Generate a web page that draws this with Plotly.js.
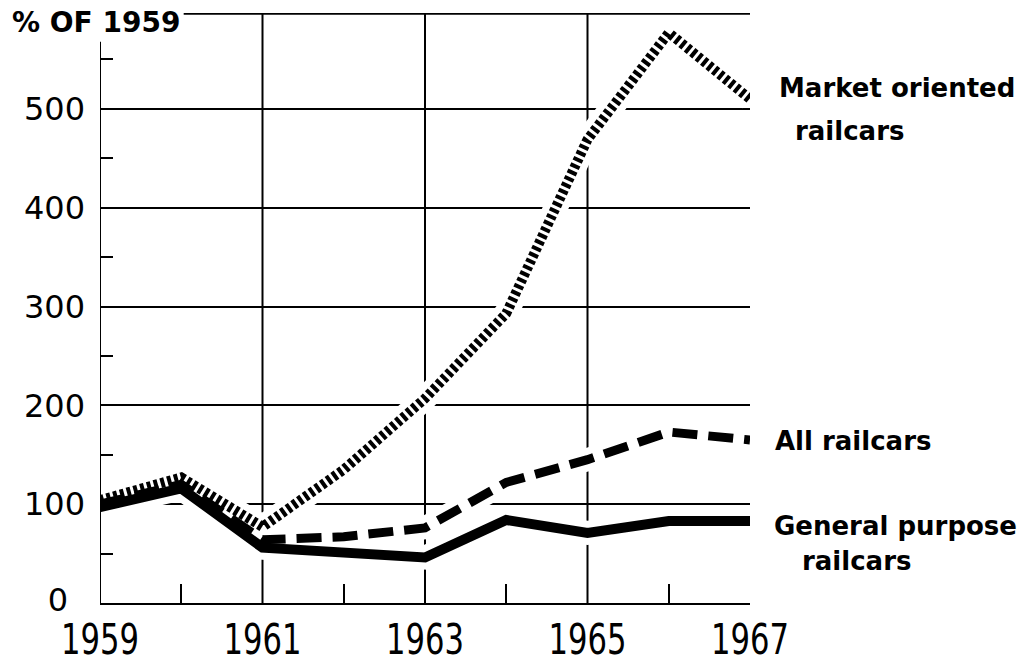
<!DOCTYPE html>
<html>
<head>
<meta charset="utf-8">
<script src="https://cdn.plot.ly/plotly-3.0.1.min.js"></script>
<style>html,body{margin:0;padding:0;background:#fff;}#chart{width:1026px;height:664px;}</style>
</head>
<body>
<div id="chart"></div>
<script>
// ---- data ----
const years = [1959, 1960, 1961, 1962, 1963, 1964, 1965, 1966, 1967];
const marketOriented = [104, 127, 77, 135, 207, 293, 469, 577, 510];
const allRailcars = [100, 120, 64, 67, 76, 122, 145, 173, 165];
const generalPurpose = [97, 116, 56, 51, 46, 84, 71, 83, 83];

const xTickVals = [1959, 1961, 1963, 1965, 1967];
const xTickText = ['1959', '1961', '1963', '1965', '1967'];
const xMinorVals = [1960, 1962, 1964, 1966];
const xGridVals = [1961, 1963, 1965];
const yTickVals = [0, 100, 200, 300, 400, 500];
const yTickText = ['0', '100', '200', '300', '400', '500'];
const yMinorVals = [50, 150, 250, 350, 450, 550];

const labelFont = {family: 'DejaVu Sans', size: 26, color: '#000', weight: 'bold'};

const series = [
  {name: 'Market oriented railcars', y: marketOriented, dash: '4px,3px', width: 10},
  {name: 'All railcars', y: allRailcars, dash: '25px,11px', width: 9},
  {name: 'General purpose railcars', y: generalPurpose, dash: 'solid', width: 10}
];

const traces = [];
series.forEach(s => traces.push({
  x: years, y: s.y, type: 'scatter', mode: 'lines', hoverinfo: 'skip', showlegend: false,
  line: {color: '#fff', width: s.width + 14, dash: 'solid'}
}));
series.forEach(s => traces.push({
  x: years, y: s.y, type: 'scatter', mode: 'lines', name: s.name, showlegend: false,
  line: {color: '#000', width: s.width, dash: s.dash}
}));

const yr = [0, 597];
const shapes = xGridVals.map(v => ({
  type: 'line', xref: 'x', yref: 'y', x0: v, x1: v, y0: 0, y1: yr[1], layer: 'below',
  line: {color: '#000', width: 2}
}));
shapes.push(
  {type: 'line', xref: 'x', yref: 'y', x0: 1959, x1: 1959, y0: 0, y1: 568, layer: 'above', line: {color: '#000', width: 2}},
  {type: 'line', xref: 'x', yref: 'y', x0: 1960.03, x1: 1967, y0: 596.3, y1: 596.3, layer: 'above', line: {color: '#000', width: 2}}
);

const layout = {
  width: 1026, height: 664,
  margin: {l: 100, r: 276, t: 13, b: 61},
  paper_bgcolor: '#fff', plot_bgcolor: '#fff',
  showlegend: false,
  font: {family: 'DejaVu Sans', color: '#000'},
  xaxis: {
    range: [1959, 1967], tickvals: xTickVals, ticktext: xTickText,
    showgrid: false, zeroline: false, showline: true, linecolor: '#000', linewidth: 2,
    ticks: '', ticklabelstandoff: 0,
    tickfont: {family: 'DejaVu Sans', size: 43, color: '#000'},
    minor: {tickvals: xMinorVals, ticks: 'inside', ticklen: 19, tickwidth: 2, tickcolor: '#000', showgrid: false}
  },
  yaxis: {
    range: yr, tickvals: yTickVals, ticktext: yTickText,
    showgrid: true, gridcolor: '#000', gridwidth: 2, zeroline: false, showline: false,
    ticks: '', ticklabelstandoff: 14,
    tickfont: {family: 'DejaVu Sans', size: 32, color: '#000'},
    minor: {tickvals: yMinorVals, ticks: 'inside', ticklen: 13, tickwidth: 2, tickcolor: '#000', showgrid: false}
  },
  yaxis2: {
    overlaying: 'y', side: 'right', anchor: 'x', range: yr,
    showticklabels: false, showgrid: false, zeroline: false,
    showline: true, linecolor: '#000', linewidth: 2, ticks: '',
    minor: {tickvals: yMinorVals, ticks: 'inside', ticklen: 14, tickwidth: 2, tickcolor: '#000', showgrid: false}
  },
  shapes: shapes,
  annotations: [
    {xref: 'paper', yref: 'paper', x: -0.1385, y: 0.984, xanchor: 'left', yanchor: 'middle', showarrow: false,
     text: '% OF 1959', font: {family: 'DejaVu Sans', size: 28, color: '#000', weight: 'bold'}},
    {xref: 'paper', yref: 'paper', x: 1.0415, y: 0.8729, xanchor: 'left', yanchor: 'middle', showarrow: false, text: 'Market oriented', font: labelFont},
    {xref: 'paper', yref: 'paper', x: 1.066, y: 0.80, xanchor: 'left', yanchor: 'middle', showarrow: false, text: 'railcars', font: labelFont},
    {xref: 'paper', yref: 'paper', x: 1.0354, y: 0.2746, xanchor: 'left', yanchor: 'middle', showarrow: false, text: 'All railcars', font: labelFont},
    {xref: 'paper', yref: 'paper', x: 1.0338, y: 0.1305, xanchor: 'left', yanchor: 'middle', showarrow: false, text: 'General purpose', font: labelFont},
    {xref: 'paper', yref: 'paper', x: 1.0769, y: 0.0712, xanchor: 'left', yanchor: 'middle', showarrow: false, text: 'railcars', font: labelFont}
  ]
};

Plotly.newPlot('chart', traces, layout, {staticPlot: true, displayModeBar: false}).then(gd => {
  // condense the year labels like the original's narrow typeface
  gd.querySelectorAll('.xtick text').forEach(t => {
    t.setAttribute('textLength', '78');
    t.setAttribute('lengthAdjust', 'spacingAndGlyphs');
    const y = parseFloat(t.getAttribute('y') || '0');
    t.setAttribute('y', String(y - 3));
  });
  // the original sets its "0" label further left of the axis
  gd.querySelectorAll('.ytick text').forEach(t => {
    if (t.textContent === '0') {
      const x = parseFloat(t.getAttribute('x') || '0');
      t.setAttribute('x', String(x - 17));
      const y = parseFloat(t.getAttribute('y') || '0');
      t.setAttribute('y', String(y - 3));
    }
  });
});
</script>
</body>
</html>
